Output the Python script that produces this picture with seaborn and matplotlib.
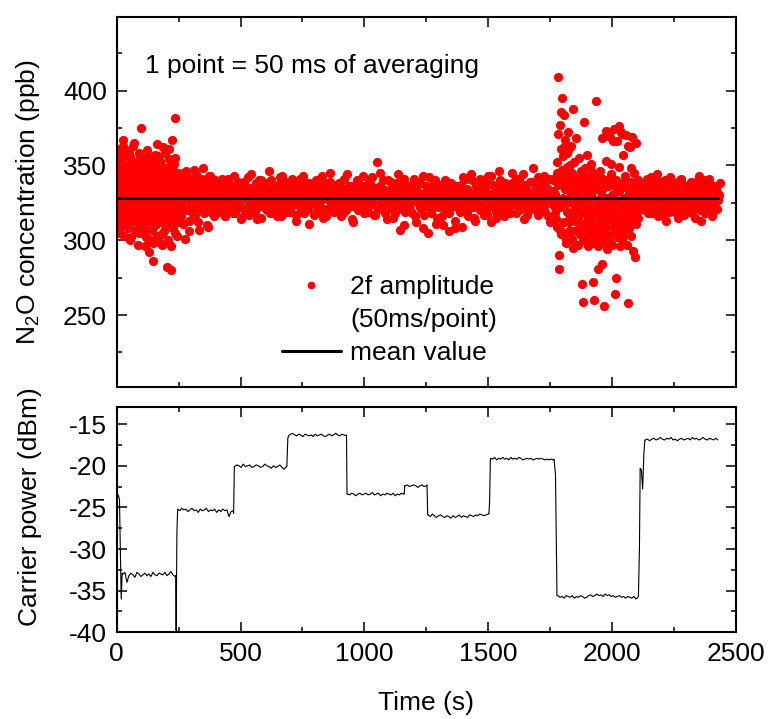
import numpy as np
import pandas as pd
import matplotlib
matplotlib.use("Agg")
import matplotlib.pyplot as plt
from matplotlib.lines import Line2D
from matplotlib.ticker import MultipleLocator
import seaborn as sns

# N2O concentration (ppb). Two interleaved passes per time segment.
conc_edges = [(0, 248), (250, 398), (400, 1768), (1770, 2110), (2115, 2435)]
conc_edges_b = [(1, 249), (252, 396), (402, 1766), (1771, 2109), (2117, 2433)]

conc_start = [
    339, 318, 352, 327, 344, 309, 333, 361, 322, 347, 314, 336, 367, 325, 341, 303, 330, 356, 317, 349, 328, 311, 343, 334, 359,
    321, 345, 300, 338, 326, 353, 315, 332, 363, 319, 342, 307, 329, 351, 323, 337, 312, 346, 331, 358, 305, 335, 324, 348, 316,
    375, 331, 343, 320, 355, 310, 337, 327, 349, 302, 334, 318, 360, 326, 340, 292, 329, 352, 313, 344, 322, 336, 307, 350, 286,
    333, 319, 357, 325, 341, 311, 338, 364, 323, 346, 299, 331, 315, 353, 328, 340, 304, 335, 321, 349, 317, 343, 326, 358, 309,
    336, 282, 347, 322, 330, 313, 354, 327, 339, 280, 344, 367, 320, 334, 308, 351, 325, 382, 318, 341, 329, 303, 338, 324, 345,
]
conc_start_b = [
    326, 349, 314, 337, 358, 320, 343, 305, 331, 353, 317, 340, 363, 328, 310, 346, 322, 334, 360, 315, 339, 327, 350, 308, 333,
    345, 319, 356, 302, 336, 324, 348, 313, 340, 329, 365, 318, 344, 306, 332, 350, 321, 338, 297, 334, 326, 355, 312, 342, 320,
    337, 309, 352, 328, 344, 315, 333, 296, 347, 324, 339, 307, 356, 319, 336, 301, 343, 330, 314, 349, 325, 341, 298, 333, 318,
    352, 327, 310, 345, 322, 338, 303, 356, 316, 335, 329, 348, 312, 341, 324, 297, 337, 320, 362, 331, 306, 344, 323, 339, 313,
    347, 319, 335, 300, 342, 328, 361, 314, 337, 296, 350, 325, 340, 311, 346, 321, 333, 305, 355, 327, 317, 341, 330, 312, 336,
]
conc_settle = [
    324, 338, 316, 331, 345, 321, 301, 335, 327, 342, 313, 329, 336, 319, 333, 326, 347, 317, 330, 339,
    322, 307, 334, 328, 341, 320, 331, 325, 337, 310, 329, 343, 323, 332, 318, 336, 327, 340,
]
conc_settle_b = [
    335, 319, 342, 326, 311, 339, 328, 346, 320, 333, 306, 337, 324, 341, 315, 330, 327, 344, 321, 336,
    312, 332, 340, 323, 329, 348, 318, 334, 325, 338, 309, 331, 343, 322, 337, 328, 316, 333,
]
conc_mid = [
    331, 324, 336, 319, 328, 341, 322, 333, 316, 329, 338, 325, 320, 334, 327, 343, 318, 330, 323, 337,
    326, 314, 332, 339, 321, 329, 335, 317, 328, 344, 324, 331, 319, 336, 327, 322, 340, 315, 330, 333,
    325, 338, 320, 329, 346, 323, 334, 318, 331, 327, 336, 321, 329, 342, 316, 332, 326, 339, 322, 330,
    335, 319, 328, 341, 324, 333, 313, 329, 337, 322, 331, 326, 343, 318, 334, 327, 321, 338, 329, 324,
    332, 317, 336, 328, 323, 340, 326, 331, 315, 334, 329, 338, 321, 327, 345, 324, 330, 319, 335, 328,
    322, 337, 329, 316, 333, 326, 341, 320, 331, 327, 336, 323, 329, 312, 334, 328, 339, 325, 321, 332,
    327, 343, 318, 330, 335, 322, 328, 338, 324, 331, 317, 334, 329, 352, 321, 336, 326, 330, 340, 323,
    329, 314, 333, 327, 339, 321, 325, 336, 318, 331, 344, 326, 322, 334, 329, 310, 337, 324, 330, 328,
    320, 335, 327, 341, 316, 329, 333, 324, 338, 321, 330, 308, 326, 336, 323, 331, 342, 318, 328, 334,
    325, 311, 330, 337, 322, 329, 316, 335, 327, 340, 320, 332, 306, 326, 338, 323, 330, 313, 334, 328,
    321, 336, 329, 309, 333, 325, 341, 318, 330, 327, 344, 322, 331, 315, 336, 326, 329, 339, 320, 333,
    327, 317, 335, 329, 343, 322, 330, 312, 337, 325, 332, 319, 328, 346, 323, 334, 329, 316, 338, 326,
    331, 321, 336, 328, 345, 324, 330, 318, 335, 327, 341, 322, 329, 333, 314, 337, 326, 331, 320, 339,
    325, 348, 330, 322, 334, 317, 329, 336, 324, 331, 343, 319, 328, 335, 326, 312, 333, 329, 340, 323,
]
conc_mid_b = [
    327, 335, 320, 331, 338, 323, 329, 316, 334, 326, 341, 321, 330, 336, 318, 328, 333, 324, 339, 329,
    322, 337, 330, 317, 334, 327, 342, 323, 329, 335, 320, 331, 326, 338, 314, 332, 328, 340, 325, 331,
    336, 321, 329, 333, 318, 340, 327, 324, 335, 330, 316, 337, 325, 331, 343, 322, 328, 334, 319, 330,
    326, 339, 322, 331, 328, 336, 317, 333, 325, 341, 329, 320, 334, 327, 338, 323, 330, 311, 336, 328,
    332, 324, 340, 319, 330, 335, 326, 343, 321, 329, 337, 316, 333, 327, 339, 324, 331, 320, 336, 329,
    325, 338, 330, 322, 335, 318, 332, 327, 344, 323, 330, 336, 314, 328, 334, 325, 340, 320, 331, 337,
    329, 321, 336, 326, 333, 319, 339, 328, 324, 342, 330, 317, 335, 327, 331, 345, 322, 329, 334, 318,
    331, 327, 340, 323, 329, 336, 315, 332, 326, 338, 321, 330, 307, 334, 328, 341, 319, 326, 335, 329,
    324, 337, 318, 330, 333, 312, 328, 339, 322, 331, 326, 343, 317, 329, 334, 305, 327, 336, 321, 332,
    328, 340, 315, 331, 324, 337, 329, 310, 334, 322, 330, 339, 318, 327, 335, 323, 331, 308, 336, 326,
    330, 319, 337, 327, 342, 321, 329, 334, 316, 332, 325, 340, 322, 331, 313, 336, 328, 324, 341, 330,
    321, 334, 328, 339, 317, 331, 326, 343, 323, 329, 336, 315, 333, 327, 340, 320, 330, 335, 324, 329,
    336, 322, 331, 318, 338, 327, 333, 324, 341, 329, 320, 335, 326, 344, 322, 330, 337, 317, 332, 328,
    324, 339, 330, 321, 336, 327, 342, 319, 331, 326, 338, 323, 330, 334, 316, 328, 341, 325, 333, 329,
]
conc_burst = [
    331, 318, 342, 325, 352, 309, 409, 337, 281, 290, 377, 322, 361, 304, 347, 395, 328, 356, 312, 384,
    335, 367, 298, 343, 319, 358, 327, 372, 306, 339, 350, 316, 331, 363, 301, 345, 388, 295, 324, 352,
    313, 336, 321, 368, 307, 329, 341, 297, 355, 318, 333, 304, 346, 326, 311, 271, 259, 338, 379, 302,
    320, 348, 309, 331, 299, 357, 315, 326, 342, 304, 337, 312, 323, 351, 298, 329, 308, 344, 260, 317,
    334, 301, 322, 393, 311, 339, 296, 281, 327, 307, 346, 314, 300, 332, 319, 368, 305, 341, 256, 312,
    326, 299, 353, 373, 308, 321, 294, 336, 316, 371, 303, 329, 298, 344, 310, 323, 297, 366, 314, 331,
    305, 327, 264, 340, 275, 318, 302, 334, 311, 349, 376, 296, 324, 309, 372, 338, 301, 319, 357, 315,
    328, 306, 343, 370, 312, 297, 335, 320, 258, 331, 308, 362, 325, 303, 339, 369, 316, 329, 293, 345,
    318, 289, 332, 311, 365, 324, 337, 315, 330, 322, 334,
]
conc_burst_b = [
    330, 314, 345, 371, 338, 307, 386, 326, 341, 362, 334, 301, 349, 325, 360, 312, 337, 328, 306, 343,
    320, 331, 297, 339, 315, 327, 304, 336, 311, 324, 300, 342, 318, 308, 333, 296, 321, 313, 347, 303,
    272, 310, 338, 299, 317, 326, 305, 344, 314, 322, 284, 335, 309, 328, 298, 340, 316, 323, 369, 351,
    319, 331, 374, 337, 312, 326, 366, 306, 333, 320, 315, 371, 324, 304, 339, 317, 328, 363, 311, 335,
    321, 348, 327, 316, 336, 325, 331, 319, 340, 328,
]
conc_end = [
    329, 336, 321, 333, 327, 341, 318, 330, 325, 338, 322, 331, 328, 344, 316, 334, 326, 339, 320, 332,
    327, 313, 335, 329, 342, 323, 330, 337, 319, 328, 334, 325, 340, 321, 331, 317, 336, 327, 333, 322,
    329, 339, 324, 332, 315, 335, 328, 343, 320, 330, 326, 337, 318, 333, 329, 341, 324, 331, 316, 336,
    327, 334, 321, 330, 338,
]
conc_end_b = [
    333, 325, 338, 320, 331, 336, 323, 329, 342, 318, 334, 327, 330, 339, 322, 328, 335, 317, 332, 326,
    340, 324, 331, 319, 336, 329, 333, 321, 338, 327, 315, 332, 326, 341, 323, 330, 335, 320, 328, 337,
    325, 331, 318, 334, 329, 339, 322, 327, 336, 313, 331, 326, 340, 324, 333, 319, 330, 337, 328, 323,
    335, 320, 332, 327, 330,
]
conc_segments = [conc_start, conc_settle, conc_mid, conc_burst, conc_end]
conc_segments_b = [conc_start_b, conc_settle_b, conc_mid_b, conc_burst_b, conc_end_b]

mean_conc = 328.0
mean_span = [0, 2430]

# carrier power plateaus (dBm) and the points on the steps between them
power_edges = [(25, 235), (246, 470), (476, 685), (694, 926), (932, 1158),
               (1165, 1250), (1258, 1500), (1510, 1763), (1782, 2105), (2135, 2428)]
power_levels = [
    [-33.0, -32.8, -34.0, -33.2, -32.9, -33.1, -33.4, -32.8, -33.0, -33.3, -33.1, -32.9, -33.2, -33.0,
     -33.3, -32.8, -33.1, -33.2, -32.9, -33.0, -33.1, -32.8, -33.2, -33.0, -32.7, -33.1, -33.3],
    [-25.2, -25.4, -25.1, -25.3, -25.2, -25.5, -25.3, -25.1, -25.4, -25.3, -25.6, -25.2, -25.4, -25.3,
     -25.1, -25.5, -25.3, -25.4, -25.2, -25.6, -25.3, -25.5, -25.2, -25.4, -25.3, -26.1, -25.5, -25.4],
    [-20.1, -19.9, -20.0, -20.2, -19.8, -20.1, -20.0, -19.9, -20.2, -20.1, -19.9, -20.0, -20.2, -20.1,
     -19.8, -20.0, -20.1, -20.3, -20.0, -20.2, -20.1, -19.9, -20.2, -20.4, -20.1],
    [-16.4, -16.2, -16.1, -16.3, -16.4, -16.2, -16.3, -16.5, -16.2, -16.3, -16.4, -16.3, -16.5, -16.2,
     -16.4, -16.3, -16.2, -16.4, -16.5, -16.3, -16.2, -16.4, -16.3, -16.1, -16.3, -16.4, -16.2, -16.3, -16.4],
    [-23.4, -23.5, -23.3, -23.4, -23.6, -23.4, -23.3, -23.5, -23.4, -23.3, -23.5, -23.4, -23.2, -23.5,
     -23.4, -23.3, -23.6, -23.4, -23.5, -23.3, -23.4, -23.5, -23.3, -23.6, -23.4, -23.5, -23.3, -23.4],
    [-22.4, -22.3, -22.5, -22.4, -22.3, -22.4, -22.6, -22.4, -22.3, -22.5, -22.4],
    [-25.9, -26.1, -25.8, -26.0, -26.2, -26.0, -25.9, -26.1, -26.2, -26.0, -26.1, -26.3, -26.0, -26.2,
     -26.1, -25.9, -26.2, -26.0, -26.1, -26.2, -25.9, -26.0, -26.1, -25.9, -26.0, -25.8, -25.9, -26.0, -25.9, -25.8],
    [-19.1, -19.2, -19.0, -19.3, -19.1, -19.2, -19.0, -19.2, -19.1, -19.3, -19.0, -19.2, -19.1, -19.2,
     -19.0, -19.1, -19.3, -19.2, -19.1, -19.2, -19.1, -19.3, -19.2, -19.1, -19.2, -19.1, -19.2, -19.3,
     -19.2, -19.3, -19.2, -19.3],
    [-35.6, -35.8, -35.7, -35.9, -35.6, -35.7, -35.8, -35.6, -35.9, -35.7, -35.8, -35.6, -35.7, -35.9,
     -35.8, -35.6, -35.5, -35.7, -35.6, -35.4, -35.6, -35.5, -35.7, -35.4, -35.6, -35.5, -35.7, -35.6,
     -35.8, -35.7, -35.6, -35.8, -35.7, -35.9, -35.7, -35.8, -35.9, -35.7, -36.0, -35.8],
    [-16.9, -16.8, -17.0, -16.8, -16.7, -16.9, -16.8, -16.6, -16.8, -16.9, -16.7, -16.8, -16.6, -16.9,
     -16.8, -17.0, -16.8, -16.7, -16.9, -16.8, -16.7, -16.9, -16.6, -16.8, -16.7, -16.9, -16.8, -16.6,
     -16.8, -16.9, -16.7, -16.8, -16.9, -16.7, -16.9],
]
step_t = [6, 11, 18, 22, 238, 240, 243, 472, 475, 687, 691, 928, 930, 1161, 1163, 1253, 1256,
          1503, 1506, 1509, 1766, 1772, 1778, 2107, 2111, 2114, 2119, 2124, 2129, 2133]
step_p = [-23.5, -24.0, -36.0, -32.9, -33.2, -39.8, -28.0, -25.7, -20.1, -20.1, -16.7, -16.3, -23.4,
          -23.4, -22.4, -22.3, -25.9, -25.8, -24.2, -19.2, -19.2, -21.0, -35.6, -35.6, -30.0, -20.3,
          -20.5, -22.8, -18.5, -16.9]

# assemble tables (samples are evenly spaced in time inside each segment)
conc_df = pd.concat(
    [pd.DataFrame({"t": np.linspace(a, b, len(v)), "conc": v})
     for (a, b), v in zip(conc_edges + conc_edges_b, conc_segments + conc_segments_b)],
    ignore_index=True,
).sort_values("t")

power_df = pd.concat(
    [pd.DataFrame({"t": np.linspace(a, b, len(v)), "p": v}) for (a, b), v in zip(power_edges, power_levels)]
    + [pd.DataFrame({"t": step_t, "p": step_p})],
    ignore_index=True,
).sort_values("t")

sns.set_style("ticks")
plt.rcParams["font.family"] = ["Liberation Sans", "DejaVu Sans"]
plt.rcParams["mathtext.default"] = "regular"
plt.rcParams["axes.unicode_minus"] = False
for key in ["text.color", "axes.labelcolor", "xtick.color", "ytick.color", "axes.edgecolor"]:
    plt.rcParams[key] = "black"
fs = 19

fig = plt.figure(figsize=(7.68, 7.19), dpi=100)
ax1 = fig.add_axes([0.152, 0.462, 0.806, 0.514])
ax2 = fig.add_axes([0.152, 0.1206, 0.806, 0.3138])

sns.scatterplot(data=conc_df, x="t", y="conc", color="#ff0000", s=44, linewidth=0,
                ax=ax1, legend=False, zorder=2)
ax1.plot(mean_span, [mean_conc, mean_conc], color="black", lw=2.2, zorder=3)

sns.lineplot(data=power_df, x="t", y="p", estimator=None, sort=True,
             color="black", lw=0.8, ax=ax2)

for ax in (ax1, ax2):
    ax.set_xlim(0, 2500)
    ax.xaxis.set_major_locator(MultipleLocator(500))
    ax.xaxis.set_minor_locator(MultipleLocator(250))
    ax.tick_params(which="both", direction="in", top=True, right=True, width=1.1,
                   labelsize=fs, pad=7)
    ax.tick_params(which="major", length=7)
    ax.tick_params(which="minor", length=3.6)
    for s in ax.spines.values():
        s.set_linewidth(1.5)

ax1.set_ylim(202, 449)
ax1.yaxis.set_major_locator(MultipleLocator(50))
ax1.yaxis.set_minor_locator(MultipleLocator(25))
ax1.tick_params(labelbottom=False)
ax1.set_xlabel("")
ax1.set_ylabel("N$_2$O concentration (ppb)", fontsize=fs)
ax1.yaxis.set_label_coords(-0.121, 0.50)

ax2.set_ylim(-40, -12.9)
ax2.yaxis.set_major_locator(MultipleLocator(5))
ax2.yaxis.set_minor_locator(MultipleLocator(2.5))
ax2.set_xlabel("Time (s)", fontsize=fs)
ax2.set_ylabel("Carrier power (dBm)", fontsize=fs)
ax2.xaxis.set_label_coords(0.5, -0.26)
ax2.yaxis.set_label_coords(-0.121, 0.555)

ax1.text(0.046, 0.848, "1 point = 50 ms of averaging", transform=ax1.transAxes,
         fontsize=fs, ha="left", va="baseline")

handles = [
    Line2D([], [], color="#ff0000", marker="o", markersize=4.5, linestyle="none"),
    Line2D([], [], linestyle="none"),
    Line2D([], [], color="black", lw=2.2),
]
ax1.legend(handles, ["2f amplitude", "(50ms/point)", "mean value"], loc="upper left",
           bbox_to_anchor=(0.2666, 0.303), frameon=False, fontsize=fs, borderpad=0,
           borderaxespad=0, handlelength=2.24, handletextpad=0.35, labelspacing=0.35)

fig.savefig("out.png", dpi=100)
